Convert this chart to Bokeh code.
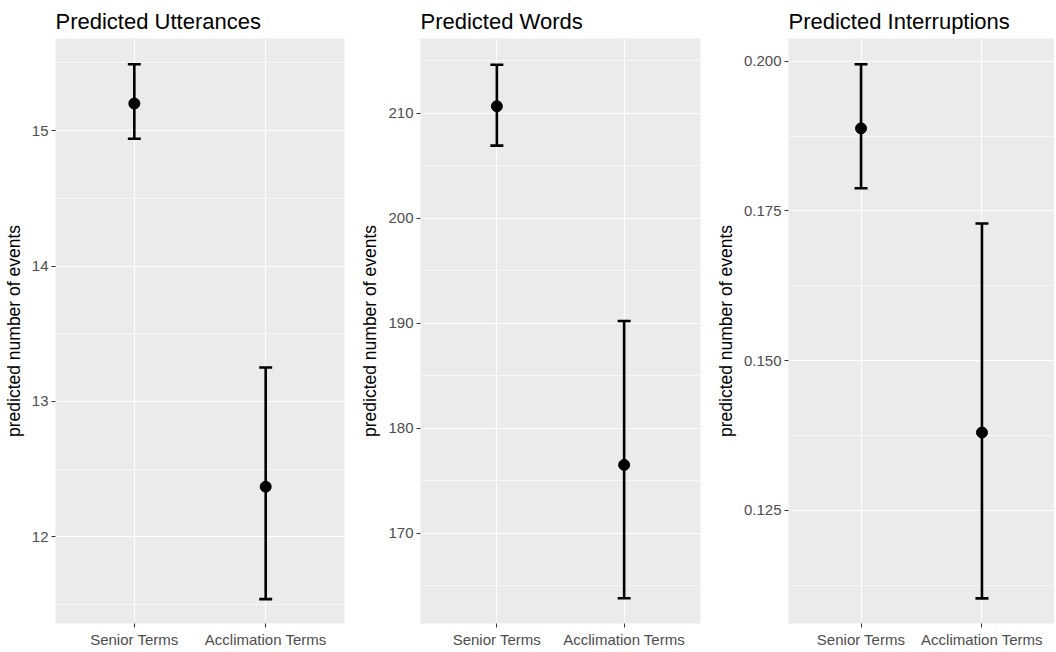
from bokeh.plotting import figure
from bokeh.models import FixedTicker, Whisker, TeeHead, ColumnDataSource, FactorRange, Range1d, PrintfTickFormatter
from bokeh.layouts import row
from bokeh.embed import file_html
from bokeh.resources import INLINE

categories = ["Senior Terms", "Acclimation Terms"]

utt_est = [15.20, 12.37]
utt_lo = [14.94, 11.54]
utt_hi = [15.49, 13.25]

words_est = [210.65, 176.5]
words_lo = [206.9, 163.8]
words_hi = [214.6, 190.2]

int_est = [0.1888, 0.1380]
int_lo = [0.1788, 0.1103]
int_hi = [0.1995, 0.1729]

titles = ["Predicted Utterances", "Predicted Words", "Predicted Interruptions"]
ylabel = "predicted number of events"

utt_ticks = [12, 13, 14, 15]
utt_minor = [11.5, 12.5, 13.5, 14.5, 15.5]
words_ticks = [170, 180, 190, 200, 210]
words_minor = [165, 175, 185, 195, 205, 215]
int_ticks = [0.125, 0.150, 0.175, 0.200]
int_minor = [0.1125, 0.1375, 0.1625, 0.1875]

FONT = "Liberation Sans"
H = 650


def panel(title, est, lo, hi, ticks, minor, yrange, width, bl, br, fmt=None):
    src = ColumnDataSource(dict(cat=categories, est=est, lo=lo, hi=hi))
    p = figure(x_range=FactorRange(*categories, range_padding=0.1, range_padding_units="absolute"),
               y_range=Range1d(*yrange), width=width, height=H,
               output_backend="svg", toolbar_location=None,
               min_border_left=bl, min_border_right=br, min_border_top=38, min_border_bottom=25)
    p.title.text = title
    p.title.text_font = FONT
    p.title.text_font_size = "22px"
    p.title.text_font_style = "normal"
    p.title.text_color = "#000000"
    p.title.offset = 0
    p.title.standoff = 9
    p.background_fill_color = "#EBEBEB"
    p.outline_line_color = None
    p.border_fill_color = "white"
    for ax in (p.xaxis[0], p.yaxis[0]):
        ax.axis_line_color = None
        ax.major_tick_line_color = "#333333"
        ax.major_tick_line_width = 1
        ax.major_tick_in = 0
        ax.major_tick_out = 4
        ax.minor_tick_line_color = None
        ax.major_label_text_font = FONT
        ax.major_label_text_font_size = "15px"
        ax.major_label_text_color = "#4D4D4D"
        ax.major_label_standoff = 3
    p.yaxis[0].ticker = FixedTicker(ticks=ticks, minor_ticks=minor)
    if fmt:
        p.yaxis[0].formatter = PrintfTickFormatter(format=fmt)
    p.yaxis[0].axis_label = ylabel
    p.yaxis[0].axis_label_text_font = FONT
    p.yaxis[0].axis_label_text_font_size = "17.5px"
    p.yaxis[0].axis_label_text_font_style = "normal"
    p.yaxis[0].axis_label_text_color = "#000000"
    p.yaxis[0].axis_label_standoff = 5
    p.xgrid.grid_line_color = "white"
    p.xgrid.grid_line_width = 1.2
    p.ygrid.grid_line_color = "white"
    p.ygrid.grid_line_width = 1.2
    p.ygrid.minor_grid_line_color = "white"
    p.ygrid.minor_grid_line_width = 0.6
    w = Whisker(source=src, base="cat", lower="lo", upper="hi", line_width=2.6, line_color="black",
                upper_head=TeeHead(size=13, line_width=2.6, line_color="black"),
                lower_head=TeeHead(size=13, line_width=2.6, line_color="black"))
    p.add_layout(w)
    p.scatter(x="cat", y="est", source=src, size=11, color="black")
    return p


p1 = panel(titles[0], utt_est, utt_lo, utt_hi, utt_ticks, utt_minor, (11.36, 15.68), 350, 54, 6)
p2 = panel(titles[1], words_est, words_lo, words_hi, words_ticks, words_minor, (161.4, 217.1), 353, 70, 3)
p3 = panel(titles[2], int_est, int_lo, int_hi, int_ticks, int_minor, (0.1061, 0.2038), 351, 85, 0, fmt="%.3f")

layout = row(p1, p2, p3)
open("out.html", "w").write(file_html(layout, INLINE))
